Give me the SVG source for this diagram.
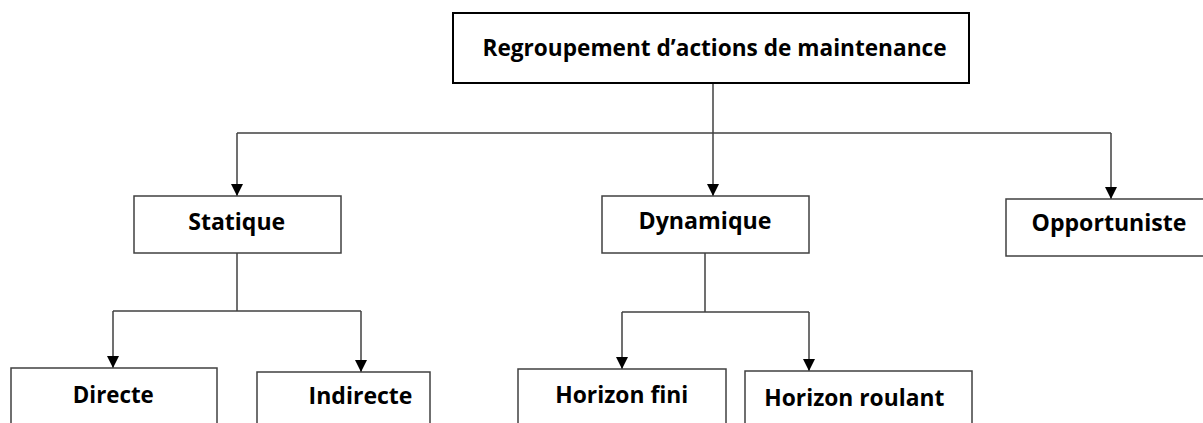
<svg xmlns="http://www.w3.org/2000/svg" width="1203" height="423" viewBox="0 0 1203 423">
<defs>
<marker id="arr" markerUnits="userSpaceOnUse" markerWidth="12" markerHeight="12" viewBox="0 0 12 12" refX="12" refY="6" orient="auto">
<path d="M0 0 L12 6 L0 12 Z" fill="#000"/>
</marker>
<style>
.box{fill:#fff;stroke:#404040;stroke-width:1.5}
.top{fill:#fff;stroke:#000;stroke-width:2}
.ln{fill:none;stroke:#404040;stroke-width:1.5}
.t{font-family:"Open Sans","Liberation Sans",sans-serif;font-weight:bold;font-size:23px;fill:#000;text-anchor:middle}
</style>
</defs>
<rect width="1203" height="423" fill="#fff"/>
<g id="connectors">
<path class="ln" d="M713 83 V133"/>
<path class="ln" d="M237 133 H1111"/>
<path class="ln" d="M237 133 V196" marker-end="url(#arr)"/>
<path class="ln" d="M713 133 V196" marker-end="url(#arr)"/>
<path class="ln" d="M1111 133 V199" marker-end="url(#arr)"/>
<path class="ln" d="M237 253 V311"/>
<path class="ln" d="M113 311 H361"/>
<path class="ln" d="M113 311 V368" marker-end="url(#arr)"/>
<path class="ln" d="M361 311 V372" marker-end="url(#arr)"/>
<path class="ln" d="M705 253 V312"/>
<path class="ln" d="M622 312 H809"/>
<path class="ln" d="M622 312 V369" marker-end="url(#arr)"/>
<path class="ln" d="M809 312 V371" marker-end="url(#arr)"/>
</g>
<g id="root">
<rect class="top" x="453" y="13" width="516" height="70"/>
<text class="t" x="714.5" y="56" textLength="464" lengthAdjust="spacingAndGlyphs">Regroupement d’actions de maintenance</text>
</g>
<g id="statique">
<rect class="box" x="134" y="196" width="207" height="57"/>
<text class="t" x="236.7" y="230" textLength="97" lengthAdjust="spacingAndGlyphs">Statique</text>
</g>
<g id="dynamique">
<rect class="box" x="602" y="196" width="207" height="57"/>
<text class="t" x="705" y="229" textLength="133" lengthAdjust="spacingAndGlyphs">Dynamique</text>
</g>
<g id="opportuniste">
<rect class="box" x="1006" y="199" width="210" height="57"/>
<text class="t" x="1109" y="231" textLength="155" lengthAdjust="spacingAndGlyphs">Opportuniste</text>
</g>
<g id="directe">
<rect class="box" x="11" y="368" width="206" height="70"/>
<text class="t" x="113.3" y="403" textLength="81" lengthAdjust="spacingAndGlyphs">Directe</text>
</g>
<g id="indirecte">
<rect class="box" x="257" y="372" width="173" height="70"/>
<text class="t" x="360.5" y="404" textLength="104" lengthAdjust="spacingAndGlyphs">Indirecte</text>
</g>
<g id="horizon-fini">
<rect class="box" x="518" y="369" width="208" height="70"/>
<text class="t" x="621.7" y="402.5" textLength="133" lengthAdjust="spacingAndGlyphs">Horizon fini</text>
</g>
<g id="horizon-roulant">
<rect class="box" x="745" y="371" width="227" height="70"/>
<text class="t" x="854.3" y="406" textLength="180" lengthAdjust="spacingAndGlyphs">Horizon roulant</text>
</g>
</svg>
